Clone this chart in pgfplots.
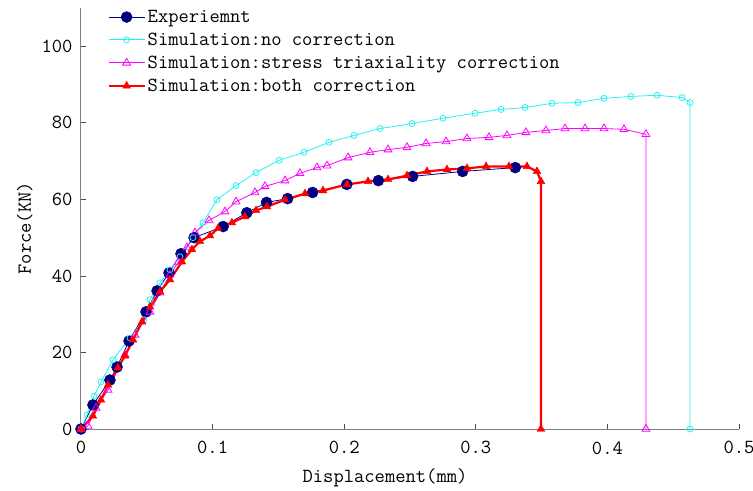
\documentclass[border=0pt]{standalone}
\usepackage{fontspec}
\usepackage{pgfplots}
\pgfplotsset{compat=1.18}
\definecolor{navyc}{RGB}{0,0,128}
\definecolor{cyanc}{RGB}{40,240,240}
\definecolor{magc}{RGB}{255,0,255}
\definecolor{redc}{RGB}{255,0,0}
\newcommand{\tf}{\ttfamily\fontsize{20}{22}\selectfont}
\begin{document}
\begin{tikzpicture}
\begin{axis}[
  scale only axis, width=658pt, height=421pt,
  xmin=0, xmax=0.5, ymin=0, ymax=110,
  axis x line=bottom, axis y line=left,
  axis line style={-, draw=black!50, line width=1pt},
  tick align=inside, major tick length=5pt,
  tick style={black!70, line width=0.8pt},
  xtick={0,0.1,0.2,0.3,0.4,0.5},
  xticklabels={0,0.1,0.2,0.3,0.4,0.5},
  ytick={0,20,40,60,80,100},
  yticklabels={0,20,40,60,80,100},
  tick label style={font=\tf},
  xticklabel style={yshift=-9pt},
  yticklabel style={xshift=-5pt},
  xlabel={Displacement(mm)}, ylabel={Force(KN)},
  label style={font=\tf},
  xlabel style={at={(axis description cs:0.462,0)}, anchor=north, yshift=-36pt},
  ylabel style={at={(axis description cs:0,0.477)}, anchor=south, yshift=45pt},
  clip=false,
  legend cell align=left,
  legend style={at={(axis description cs:0.04,1.0)}, anchor=north west, draw=none, fill=none, font=\tf, inner sep=0pt, row sep=5pt},
  legend image code/.code={\draw[mark repeat=2,mark phase=2,#1] plot coordinates {(0pt,0pt) (18pt,0pt) (36pt,0pt)};},
]
\addplot[color=navyc, line width=0.8pt, mark=*, mark size=5.5pt, mark options={line width=0.5pt}] coordinates {
(0,0) (0.0091,6.3) (0.022,12.8) (0.0274,16.2) (0.0365,23.0) (0.0494,30.6) (0.0578,36.1) (0.0669,40.8) (0.076,45.8) (0.0859,50.0) (0.108,52.9) (0.126,56.5) (0.141,59.2) (0.157,60.2) (0.176,61.8) (0.202,63.9) (0.226,64.9) (0.252,66.0) (0.290,67.3) (0.330,68.3)
};
\addlegendentry{Experiemnt}
\addplot[color=cyanc, line width=0.8pt, mark=o, mark size=3pt] coordinates {
(0,0) (0.0046,3.7) (0.0099,8.6) (0.0152,12.3) (0.0243,18.1) (0.0372,23.8) (0.0479,28.5) (0.0524,33.8) (0.060,38.2) (0.0676,41.6) (0.0752,45.0) (0.0851,50.0) (0.0927,53.9) (0.1033,59.9) (0.1178,63.6) (0.133,67.0) (0.1505,70.2) (0.1695,72.3) (0.1884,74.9) (0.2074,76.7) (0.2272,78.5) (0.2515,79.8) (0.2751,81.2) (0.2994,82.5) (0.3191,83.5) (0.3374,84.0) (0.3579,85.1) (0.3777,85.3) (0.3974,86.4) (0.4179,86.9) (0.4377,87.2) (0.4567,86.6) (0.4628,85.3) (0.4628,0)
};
\addlegendentry{Simulation:no correction}
\addplot[color=magc, line width=0.8pt, mark=triangle, mark size=4.5pt] coordinates {
(0,0) (0.0053,0.8) (0.0114,5.5) (0.0205,10.2) (0.0334,19.4) (0.041,24.6) (0.0524,30.6) (0.060,35.6) (0.0676,40.3) (0.0737,43.5) (0.0805,47.4) (0.0866,51.3) (0.0973,54.5) (0.1094,56.8) (0.1178,59.4) (0.1322,61.8) (0.1398,63.4) (0.155,64.9) (0.1664,66.8) (0.1793,68.3) (0.1869,68.8) (0.2029,70.9) (0.2196,72.3) (0.2333,73.0) (0.2477,73.6) (0.2622,74.6) (0.2774,75.1) (0.2933,75.9) (0.31,76.2) (0.3237,76.7) (0.3381,77.5) (0.3533,78.0) (0.3678,78.5) (0.383,78.5) (0.3974,78.5) (0.4126,78.3) (0.4293,77.0) (0.4293,0)
};
\addlegendentry{Simulation:stress triaxiality correction}
\addplot[color=redc, line width=2.2pt, mark=triangle*, mark size=4.5pt, mark options={line width=0.4pt}] coordinates {
(0,0) (0.0091,3.4) (0.0152,7.6) (0.0205,11.5) (0.0281,16.0) (0.0334,19.1) (0.0395,23.3) (0.0464,28.0) (0.0524,31.9) (0.060,35.9) (0.0676,39.0) (0.0767,43.7) (0.0843,46.9) (0.0904,49.0) (0.098,50.5) (0.1041,52.4) (0.1147,53.9) (0.1246,55.5) (0.133,57.1) (0.1413,58.1) (0.155,59.9) (0.1702,61.5) (0.1839,62.3) (0.2021,63.9) (0.2181,64.7) (0.2333,65.2) (0.2477,66.2) (0.2629,67.3) (0.2781,67.8) (0.2933,68.1) (0.3078,68.6) (0.3252,68.6) (0.3389,68.6) (0.3465,67.3) (0.3495,64.7) (0.3495,0)
};
\addlegendentry{Simulation:both correction}
\coordinate (sw) at (rel axis cs:0,0);
\coordinate (ne) at (rel axis cs:1,1);
\end{axis}
\pgfresetboundingbox
\path[use as bounding box] ([shift={(-81pt,-61pt)}]sw) rectangle ([shift={(14pt,8pt)}]ne);
\end{tikzpicture}
\end{document}
